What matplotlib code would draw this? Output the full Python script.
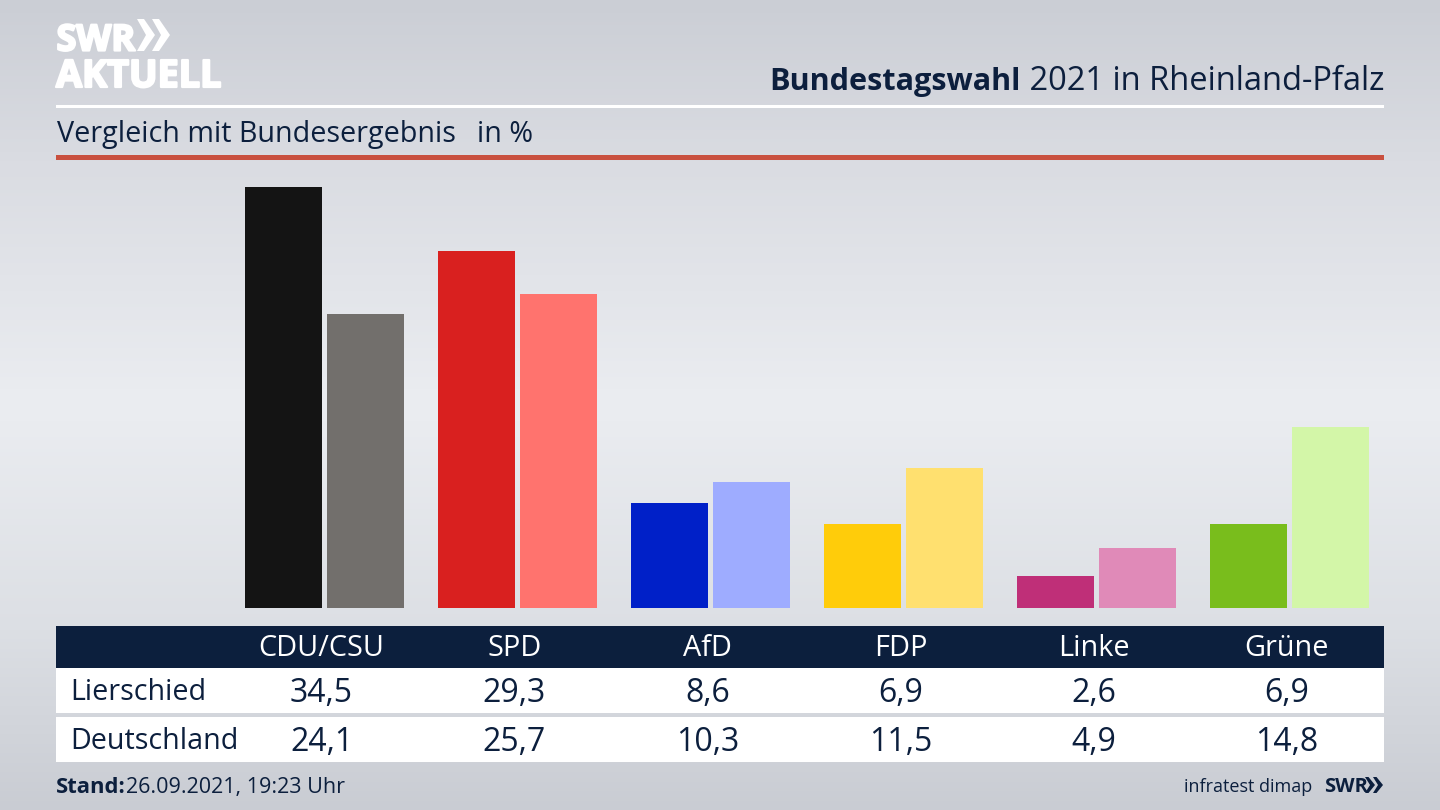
"""Bundestagswahl 2021 bar comparison, Lierschied vs. Deutschland."""
import matplotlib
matplotlib.use("Agg")
import matplotlib.pyplot as plt
import matplotlib.patheffects as pe
from matplotlib.colors import LinearSegmentedColormap
from matplotlib.patches import Polygon, Rectangle
import numpy as np

parties = ["CDU/CSU", "SPD", "AfD", "FDP", "Linke", "Grüne"]
lierschied = [34.5, 29.3, 8.6, 6.9, 2.6, 6.9]
deutschland = [24.1, 25.7, 10.3, 11.5, 4.9, 14.8]
row_names = ["Lierschied", "Deutschland"]
colors_local = ["#141414", "#d9201f", "#0020c8", "#ffcc0a", "#bf2f78", "#79bd1c"]
colors_national = ["#726f6c", "#ff736e", "#9eacff", "#ffe06f", "#e08ab8", "#d3f6a8"]

NAVY = "#0c1f3d"
W, H = 1440, 810
plt.rcParams["font.family"] = ["Open Sans", "DejaVu Sans"]


def fmt(v):
    return f"{v:.1f}".replace(".", ",")


fig = plt.figure(figsize=(W / 100, H / 100), dpi=100)

# page layer in pixel coordinates
page = fig.add_axes([0, 0, 1, 1])
page.set_xlim(0, W)
page.set_ylim(H, 0)
page.axis("off")
bg = LinearSegmentedColormap.from_list(
    "bg", [(0, "#cbced5"), (0.2, "#dadce2"), (0.5, "#ebedf1"), (0.78, "#dcdfe4"), (1, "#c9ccd3")]
)
page.imshow(np.linspace(0, 1, 256)[:, None], extent=[0, W, H, 0], aspect="auto", cmap=bg, zorder=0)

# logo
heavy = [pe.withStroke(linewidth=1.6, foreground="white")]
page.text(56.5, 50.5, "SWR", color="white", fontsize=26, fontweight="bold", va="baseline", ha="left", path_effects=heavy)
page.text(56, 87, "AKTUELL", color="white", fontsize=27.2, fontweight="bold", va="baseline", ha="left", path_effects=heavy)
for x0 in [137, 152]:
    page.add_patch(Polygon([(x0, 19), (x0 + 7, 19), (x0 + 18, 35), (x0 + 7, 51), (x0, 51), (x0 + 9, 35)], color="white", lw=0, zorder=3))

# header
t = page.text(1384, 90, " 2021 in Rheinland-Pfalz", color=NAVY, fontsize=23.5, ha="right", va="baseline")
fig.canvas.draw()
bb = t.get_window_extent()
page.text(bb.x0, 90, "Bundestagswahl", color=NAVY, fontsize=22.1, fontweight="bold", ha="right", va="baseline")
page.add_patch(Rectangle((56, 104.5), 1328, 3, color="white", lw=0, zorder=2))
page.text(57, 142, "Vergleich mit Bundesergebnis", color=NAVY, fontsize=20.7, va="baseline")
page.text(477, 142, "in %", color=NAVY, fontsize=20.7, va="baseline")
page.add_patch(Rectangle((56, 155), 1328, 5, color="#c9503f", lw=0, zorder=2))

# bars
ax_l, ax_r, ax_b, ax_t = 56, 1384, 608, 168
ax = fig.add_axes([ax_l / W, 1 - ax_b / H, (ax_r - ax_l) / W, (ax_b - ax_t) / H])
ax.patch.set_alpha(0)
ax.axis("off")
spacing = 193.0
center0 = 324.5
ax.set_xlim((ax_l - center0) / spacing, (ax_r - center0) / spacing)
ax.set_ylim(0, (ax_b - ax_t) / 12.2)
pos = np.arange(len(parties))
ax.bar(pos - 0.2124, lierschied, width=0.399, color=colors_local)
ax.bar(pos + 0.2124, deutschland, width=0.399, color=colors_national)

# table
page.add_patch(Rectangle((56, 626), 1328, 42, color=NAVY, lw=0, zorder=2))
page.add_patch(Rectangle((56, 668), 1328, 45, color="white", lw=0, zorder=2))
page.add_patch(Rectangle((56, 717), 1328, 45, color="white", lw=0, zorder=2))
for i, name in enumerate(parties):
    cx = center0 - 3 + spacing * i
    page.text(cx, 656.5, name, color="white", fontsize=20.8, ha="center", va="baseline", zorder=4)
    page.text(cx, 702, fmt(lierschied[i]), color=NAVY, fontsize=23, ha="center", va="baseline", zorder=4)
    page.text(cx, 751, fmt(deutschland[i]), color=NAVY, fontsize=23, ha="center", va="baseline", zorder=4)
page.text(70, 700, row_names[0], color=NAVY, fontsize=20.6, va="baseline", zorder=4)
page.text(70, 749, row_names[1], color=NAVY, fontsize=20.6, va="baseline", zorder=4)

# footer
page.text(56, 793, "Stand:", color=NAVY, fontsize=15.8, fontweight="bold", va="baseline")
page.text(126, 793, "26.09.2021, 19:23 Uhr", color=NAVY, fontsize=15.5, va="baseline")
page.text(1312, 792, "infratest dimap", color=NAVY, fontsize=13, ha="right", va="baseline")
page.text(1324, 792, "SWR", color=NAVY, fontsize=14.5, fontweight="bold", va="baseline")
for x0 in [1365, 1373]:
    page.add_patch(Polygon([(x0, 777), (x0 + 3.5, 777), (x0 + 10, 785), (x0 + 3.5, 793), (x0, 793), (x0 + 5, 785)], color=NAVY, lw=0, zorder=3))

fig.savefig("out.png", dpi=100)
plt.close(fig)
